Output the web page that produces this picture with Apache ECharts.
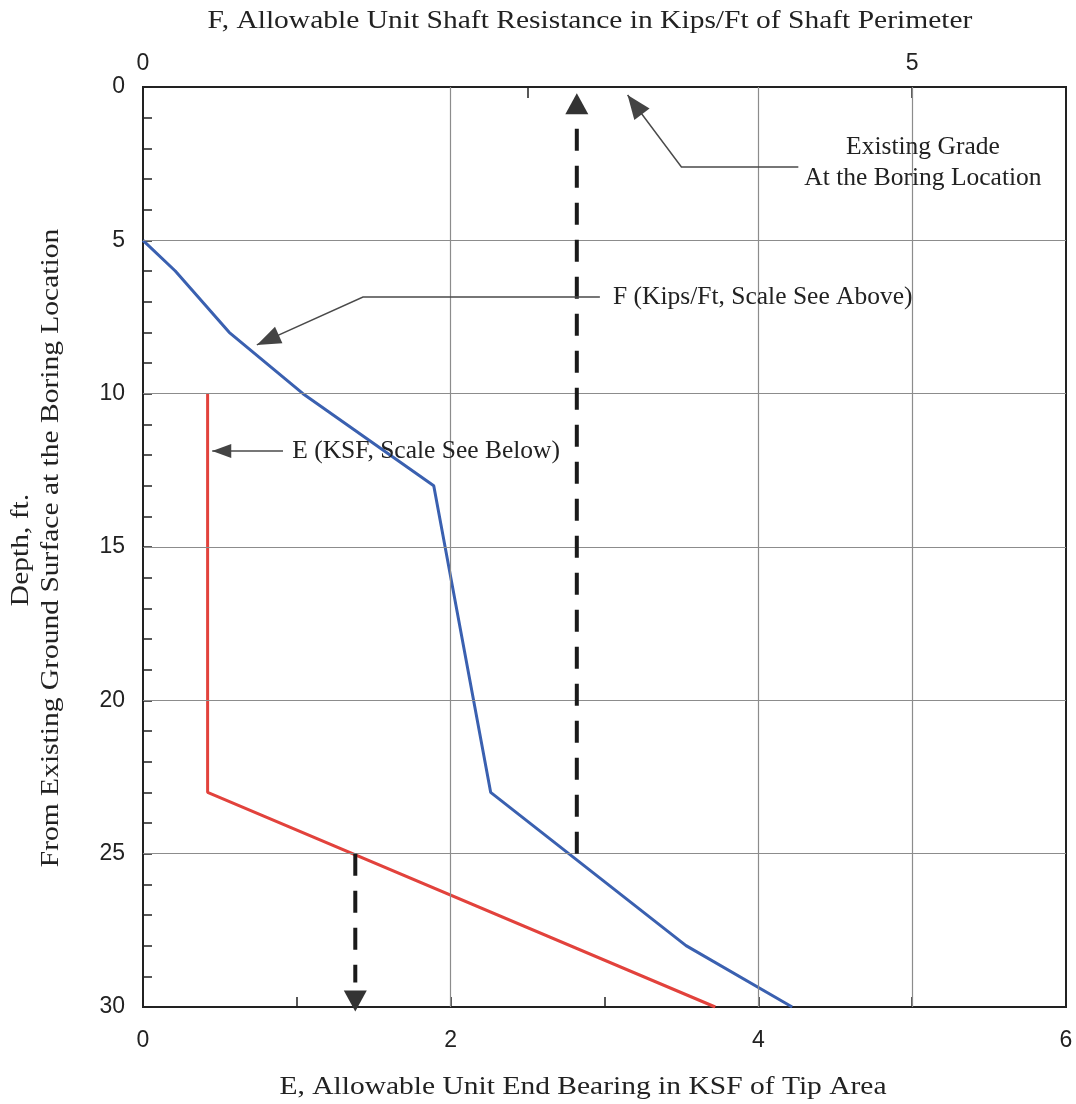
<!DOCTYPE html>
<html>
<head>
<meta charset="utf-8">
<script src="https://cdn.jsdelivr.net/npm/echarts@6/dist/echarts.min.js"></script>
<style>
html,body{margin:0;padding:0;background:#fff;}
#c{width:1076px;height:1104px;}
</style>
</head>
<body>
<div id="c"></div>
<script>
// ---- data ----
const depthF = [5, 6, 8, 10, 13, 23, 28, 30];
const valueF = [0, 0.21, 0.56, 1.04, 1.89, 2.26, 3.53, 4.22];
const depthE = [10, 23, 30];
const valueE = [0.42, 0.42, 3.72];
const gridE = [2, 4, 5];
const gridDepth = [5, 10, 15, 20, 25];
const bottomTickLabels = [0, 2, 4, 6];
const topTickLabels = [0, 5];
const depthTickLabels = [0, 5, 10, 15, 20, 25, 30];
const upArrowF = [2.82, 25, 1.3, 0.2];     // x, from depth, line end depth, tip depth
const downArrowE = [1.38, 25, 29.2, 30.15];

// annotation anchors (E-scale, depth)
const gradeLeader = [[3.15, 0.26], [3.50, 2.61], [4.26, 2.61]];
const gradeText = ['Existing Grade', 'At the Boring Location'];
const gradeTextPos = [[5.07, 1.96], [5.07, 2.97]];
const fLeader = [[0.74, 8.41], [1.43, 6.85], [2.97, 6.85]];
const fText = 'F (Kips/Ft, Scale See Above)';
const fTextPos = [3.055, 6.85];
const eLeader = [[0.45, 11.87], [0.91, 11.87]];
const eText = 'E (KSF, Scale See Below)';
const eTextPos = [0.97, 11.87];

const SERIF = '"Liberation Serif", "Times New Roman", serif';
const SANS = '"Liberation Sans", Arial, sans-serif';
const TXT = '#222';

const chart = echarts.init(document.getElementById('c'), null, {renderer: 'canvas'});

const zip = (xs, ys) => xs.map((v, i) => [v, ys[i]]);

const option = {
  animation: false,
  backgroundColor: '#fff',
  grid: {left: 143, top: 87, right: 10, bottom: 97, show: true, borderColor: '#222', borderWidth: 2, backgroundColor: 'transparent'},
  xAxis: [
    {
      type: 'value', position: 'bottom', min: 0, max: 6, interval: 1,
      axisLine: {show: true, onZero: false, lineStyle: {color: '#222', width: 2}},
      axisTick: {show: true, inside: true, length: 10, lineStyle: {color: '#222', width: 1.5}},
      axisLabel: {margin: 22, fontSize: 23, fontFamily: SANS, color: TXT,
        formatter: v => bottomTickLabels.includes(v) ? String(v) : ''},
      splitLine: {show: false}
    },
    {
      type: 'value', position: 'top', min: 0, max: 6, interval: 2.5,
      axisLine: {show: true, onZero: false, lineStyle: {color: '#222', width: 2}},
      axisTick: {show: true, inside: true, length: 11, lineStyle: {color: '#222', width: 1.5}},
      axisLabel: {margin: 12, fontSize: 23, fontFamily: SANS, color: TXT,
        formatter: v => topTickLabels.includes(v) ? String(v) : ''},
      splitLine: {show: false}
    }
  ],
  yAxis: {
    type: 'value', inverse: true, min: 0, max: 30, interval: 1,
    axisLine: {show: true, onZero: false, lineStyle: {color: '#222', width: 2}},
    axisTick: {show: true, inside: true, length: 9, lineStyle: {color: '#222', width: 1.5}},
    axisLabel: {margin: 18, fontSize: 23, fontFamily: SANS, color: TXT,
      formatter: v => depthTickLabels.includes(v) ? String(v) : ''},
    splitLine: {show: false}
  },
  series: [
    {
      type: 'line', xAxisIndex: 0, yAxisIndex: 0, data: [[0, 0]], symbol: 'none',
      lineStyle: {opacity: 0}, silent: true, z: 1,
      markLine: {
        silent: true, symbol: ['none', 'none'], label: {show: false},
        lineStyle: {color: '#8c8c8c', width: 1.2, type: 'solid'},
        data: [...gridE.map(v => ({xAxis: v})), ...gridDepth.map(v => ({yAxis: v}))],
        animation: false
      }
    },
    {
      name: 'F', type: 'line', xAxisIndex: 1, yAxisIndex: 0,
      data: zip(valueF, depthF), symbol: 'none', z: 4,
      lineStyle: {color: '#3a60b0', width: 3}
    },
    {
      name: 'E', type: 'line', xAxisIndex: 0, yAxisIndex: 0,
      data: zip(valueE, depthE), symbol: 'none', z: 4,
      lineStyle: {color: '#e2423c', width: 3}
    },
    {
      type: 'line', xAxisIndex: 1, yAxisIndex: 0,
      data: [[upArrowF[0], upArrowF[1]], [upArrowF[0], upArrowF[2]]], symbol: 'none', z: 5,
      lineStyle: {color: '#1a1a1a', width: 4, type: [22, 15]}
    },
    {
      type: 'line', xAxisIndex: 0, yAxisIndex: 0,
      data: [[downArrowE[0], downArrowE[1]], [downArrowE[0], downArrowE[2]]], symbol: 'none', z: 5,
      lineStyle: {color: '#1a1a1a', width: 4, type: [22, 15]}
    }
  ]
};
chart.setOption(option);

// ---- annotations ----
const pxE = p => chart.convertToPixel({xAxisIndex: 0, yAxisIndex: 0}, p);
const pxF = p => chart.convertToPixel({xAxisIndex: 1, yAxisIndex: 0}, p);

function tri(tip, from, len, w, color) {
  const dx = tip[0] - from[0], dy = tip[1] - from[1];
  const L = Math.hypot(dx, dy);
  const ux = dx / L, uy = dy / L;
  const bx = tip[0] - ux * len, by = tip[1] - uy * len;
  const nx = -uy, ny = ux;
  return {type: 'polygon', z: 20, silent: true,
    shape: {points: [tip, [bx + nx * w / 2, by + ny * w / 2], [bx - nx * w / 2, by - ny * w / 2]]},
    style: {fill: color}};
}
function poly(pts) {
  return {type: 'polyline', z: 19, silent: true, shape: {points: pts},
    style: {stroke: '#4a4a4a', lineWidth: 1.5, fill: null}};
}
function txt(p, s, align, font, rot, sx) {
  return {type: 'text', x: p[0], y: p[1], rotation: rot || 0, scaleX: sx || 1, z: 21, silent: true,
    style: {text: s, font: font, fill: TXT, align: align, verticalAlign: 'middle'}};
}
const F25 = '25.5px ' + SERIF;
const FT = '26px ' + SERIF;
const SX = 1.135;

const g = [];
// dashed arrow heads
{
  const tipU = pxF([upArrowF[0], upArrowF[3]]);
  const fromU = pxF([upArrowF[0], upArrowF[1]]);
  g.push(tri(tipU, fromU, 21, 23, '#333'));
  const tipD = pxE([downArrowE[0], downArrowE[3]]);
  const fromD = pxE([downArrowE[0], downArrowE[1]]);
  g.push(tri(tipD, fromD, 21, 23, '#333'));
}
// Existing grade leader
{
  const pts = gradeLeader.map(pxE);
  g.push(poly(pts));
  g.push(tri(pts[0], pts[1], 24, 19, '#444'));
  gradeText.forEach((s, i) => g.push(txt(pxE(gradeTextPos[i]), s, 'center', F25)));
}
// F leader
{
  const pts = fLeader.map(pxE);
  g.push(poly(pts));
  g.push(tri(pts[0], pts[1], 24, 18, '#444'));
  g.push(txt(pxE(fTextPos), fText, 'left', F25));
}
// E leader
{
  const pts = eLeader.map(pxE);
  g.push(poly(pts));
  g.push(tri(pts[0], pts[1], 19, 14, '#444'));
  g.push(txt(pxE(eTextPos), eText, 'left', F25));
}
// axis titles
g.push(txt([590, 21], 'F, Allowable Unit Shaft Resistance in Kips/Ft of Shaft Perimeter', 'center', FT, 0, SX));
g.push(txt([583, 1087], 'E, Allowable Unit End Bearing in KSF of Tip Area', 'center', FT, 0, SX));
g.push(txt([21, 550], 'Depth, ft.', 'center', FT, Math.PI / 2, SX));
g.push(txt([51, 548], 'From Existing Ground Surface at the Boring Location', 'center', FT, Math.PI / 2, SX));

chart.setOption({graphic: {elements: g}});
</script>
</body>
</html>
